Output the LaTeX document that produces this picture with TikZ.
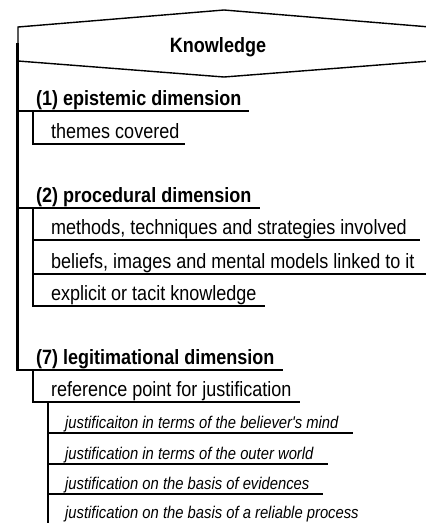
\documentclass[tikz,border=0pt]{standalone}
\usepackage{fontspec}
\setmainfont[FakeStretch=0.87,Ligatures=TeXOff]{Liberation Sans}
\begin{document}
\begin{tikzpicture}[x=1pt,y=-1pt,
  trunk/.style={line width=2.2pt},
  rule/.style={line width=1.3pt},
  frame/.style={line width=1.4pt, line join=miter},
  title/.style={inner sep=0pt, font=\fontsize{20.7}{24}\selectfont\bfseries},
  head/.style={anchor=base west, inner sep=0pt, font=\fontsize{20.7}{24}\selectfont\bfseries},
  item/.style={anchor=base west, inner sep=0pt, font=\fontsize{20.7}{24}\selectfont},
  detail/.style={anchor=base west, inner sep=0pt, font=\fontsize{17}{20}\selectfont\itshape},
]
\useasboundingbox (0,0) rectangle (426,523);

% root box
\draw[frame] (18,27) coordinate (hxA) -- (224,10) -- (430,27) -- (430,61) -- (224,77) -- (18,61) -- cycle;
\node[title, anchor=base] (root) at (218,52) {Knowledge};

% branch points
\coordinate (top) at (17.5,43);
\coordinate (j1) at (17.5,111);
\coordinate (j2) at (17.5,208);
\coordinate (j7) at (17.5,370);
\coordinate (s1) at (33,111);
\coordinate (s1a) at (33,144);
\coordinate (s2) at (33,208);
\coordinate (s2a) at (33,240);
\coordinate (s2b) at (33,274);
\coordinate (s2c) at (33,306);
\coordinate (s7) at (33,370);
\coordinate (s7a) at (33,402);
\coordinate (t7) at (48,402);
\coordinate (t7a) at (48,433);
\coordinate (t7b) at (48,464);
\coordinate (t7c) at (48,494);
\coordinate (t7end) at (48,523);

% texts
\node[head] (d1) at (36,105) {(1) epistemic dimension};
\node[item] (d1a) at (51,138) {themes covered};
\node[head] (d2) at (36,202) {(2) procedural dimension};
\node[item] (d2a) at (51,234) {methods, techniques and strategies involved};
\node[item] (d2b) at (51,268) {beliefs, images and mental models linked to it};
\node[item] (d2c) at (51,300) {explicit or tacit knowledge};
\node[head] (d7) at (36,364) {(7) legitimational dimension};
\node[item] (d7a) at (51,396) {reference point for justification};
\node[detail] (d7a1) at (65,428) {justificaiton in terms of the believer's mind};
\node[detail] (d7a2) at (65,459) {justification in terms of the outer world};
\node[detail] (d7a3) at (65,489) {justification on the basis of evidences};
\node[detail] (d7a4) at (65,518) {justification on the basis of a reliable process};

% trunk and sub-branches
\draw[trunk] (top) -- (j7) -- (s7);
\draw[trunk] (j1) -- (s1);
\draw[trunk] (j2) -- (s2);
\draw[trunk] (s1) -- (s1a) -- ([xshift=15pt]s1a);
\draw[trunk] (s2) -- (s2c) -- ([xshift=15pt]s2c);
\draw[trunk] (s2a) -- ([xshift=15pt]s2a);
\draw[trunk] (s2b) -- ([xshift=15pt]s2b);
\draw[trunk] (s7) -- (s7a) -- (t7);
\draw[trunk] (t7) -- (t7end);
\draw[trunk] (t7a) -- ([xshift=15pt]t7a);
\draw[trunk] (t7b) -- ([xshift=15pt]t7b);
\draw[trunk] (t7c) -- ([xshift=15pt]t7c);

% underlines
\draw[rule] (s1) -- (249,111);
\draw[rule] ([xshift=15pt]s1a) -- (185,144);
\draw[rule] (s2) -- (260,208);
\draw[rule] ([xshift=15pt]s2a) -- (420,240);
\draw[rule] ([xshift=15pt]s2b) -- (426,274);
\draw[rule] ([xshift=15pt]s2c) -- (265,306);
\draw[rule] (s7) -- (283,370);
\draw[rule] (t7) -- (300,402);
\draw[rule] ([xshift=15pt]t7a) -- (353,433);
\draw[rule] ([xshift=15pt]t7b) -- (328,464);
\draw[rule] ([xshift=15pt]t7c) -- (323,494);
\end{tikzpicture}
\end{document}
